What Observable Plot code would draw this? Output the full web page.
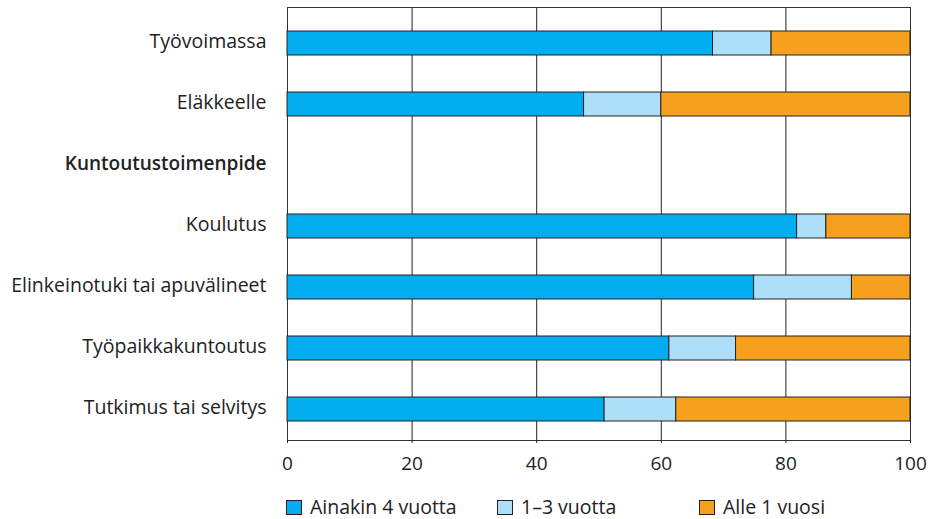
<!DOCTYPE html>
<html>
<head>
<meta charset="utf-8">
<script src="https://cdn.jsdelivr.net/npm/d3@7"></script>
<script src="https://cdn.jsdelivr.net/npm/@observablehq/plot@0.6"></script>
<style>
  html, body { margin: 0; padding: 0; background: #fff; }
  body { font-family: "Open Sans", sans-serif; color: #222; }
  #chart svg { display: block; }
  #legend { display: flex; margin-left: 286px; margin-top: 13px; font-size: 19.5px; line-height: 20px; }
  #legend .item { display: flex; align-items: center; }
  #legend .sw { width: 16px; height: 15px; border: 1px solid #222; margin-right: 8px; box-sizing: border-box; }
</style>
</head>
<body>
<div id="chart"></div>
<script>
// Rows, top to bottom; the header row has no bar
const categories = [
  "Työvoimassa",
  "Eläkkeelle",
  "Kuntoutustoimenpide",
  "Koulutus",
  "Elinkeinotuki tai apuvälineet",
  "Työpaikkakuntoutus",
  "Tutkimus tai selvitys"
];
const headerRow = "Kuntoutustoimenpide";

// Shares (%) per row
const ainakin4 = [68.3, 47.6, null, 81.8, 74.9, 61.3, 50.9];
const vuotta1to3 = [9.4, 12.4, null, 4.7, 15.7, 10.7, 11.5];
const alle1 = [22.3, 40.0, null, 13.5, 9.4, 28.0, 37.6];

const seriesNames = ["Ainakin 4 vuotta", "1–3 vuotta", "Alle 1 vuosi"];
const seriesColors = ["#00aeef", "#addff9", "#f7a01e"];
const xTicks = [0, 20, 40, 60, 80, 100];

const seriesValues = [ainakin4, vuotta1to3, alle1];
const rows = [];
categories.forEach((c, i) => {
  seriesValues.forEach((vals, s) => {
    if (vals[i] != null) rows.push({category: c, series: seriesNames[s], value: vals[i]});
  });
});

const chart = Plot.plot({
  width: 939,
  height: 484,
  marginLeft: 287,
  marginRight: 29,
  marginTop: 7,
  marginBottom: 44,
  style: {fontFamily: "'Open Sans', sans-serif", fontSize: "19px", color: "#222", background: "#fff"},
  x: {domain: [0, 100], label: null},
  y: {domain: categories, range: [12.7, 440], paddingInner: 0.6, paddingOuter: 0.3, label: null},
  color: {domain: seriesNames, range: seriesColors},
  marks: [
    Plot.gridX(xTicks, {stroke: "#222", strokeOpacity: 1, strokeWidth: 1}),
    Plot.frame({stroke: "#333", strokeWidth: 1}),
    Plot.barX(rows, Plot.stackX({
      x: "value",
      y: "category",
      fill: "series",
      order: seriesNames,
      stroke: "#222",
      strokeWidth: 1
    })),
    Plot.axisX({ticks: xTicks, tickSize: 3, tickPadding: 13, stroke: "#222", fontSize: 19, fill: "#222", label: null}),
    Plot.axisY({ticks: categories.filter(c => c !== headerRow), tickSize: 0, tickPadding: 21, dy: -2, fontSize: 19.5, fill: "#222", label: null}),
    Plot.axisY({ticks: [headerRow], tickSize: 0, tickPadding: 21, dy: -2, fontSize: 19, fontWeight: 600, fill: "#222", label: null})
  ]
});
document.getElementById("chart").appendChild(chart);

// Legend below the chart
const legend = document.createElement("div");
legend.id = "legend";
const itemWidths = [211, 202, 200];
seriesNames.forEach((name, i) => {
  const item = document.createElement("div");
  item.className = "item";
  item.style.width = itemWidths[i] + "px";
  const sw = document.createElement("span");
  sw.className = "sw";
  sw.style.background = seriesColors[i];
  const label = document.createElement("span");
  label.textContent = name;
  item.appendChild(sw);
  item.appendChild(label);
  legend.appendChild(item);
});
document.body.appendChild(legend);
</script>
</body>
</html>
